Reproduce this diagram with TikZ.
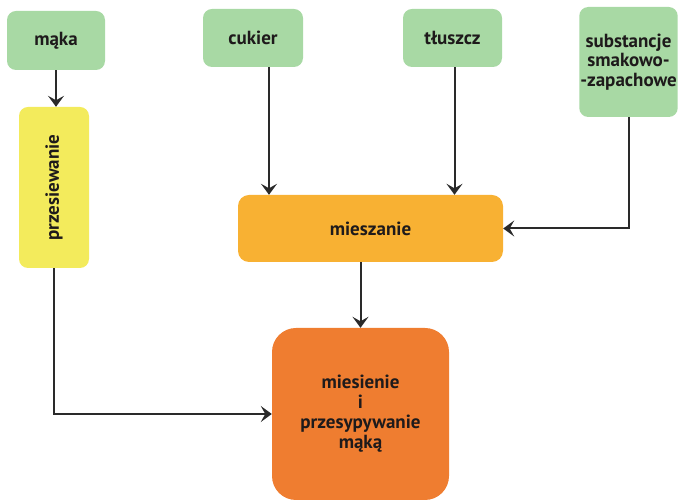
\documentclass[tikz,border=0pt]{standalone}
\usepackage{fontspec}
\setmainfont{PT Sans}
\usetikzlibrary{arrows.meta}
\definecolor{ingr}{HTML}{A8D9A4}
\definecolor{sieve}{HTML}{F3EB5C}
\definecolor{mix}{HTML}{F8B133}
\definecolor{knead}{HTML}{EF7D30}
\definecolor{ink}{HTML}{1E1A1B}
\definecolor{wire}{HTML}{2A2A2A}
\tikzset{
  x=1pt, y=1pt,
  box/.style={rounded corners=9pt, inner sep=1pt, align=center,
    font=\bfseries\fontsize{19}{19.5}\selectfont, text=ink},
  ingredient/.style={box, fill=ingr},
  flow/.style={draw=wire, line width=2pt,
    -{Stealth[length=11pt,width=16pt,inset=4.5pt]}},
}
\begin{document}
\begin{tikzpicture}
\useasboundingbox (0,0) rectangle (681,503);
% ingredients
\node[ingredient, minimum width=98pt, minimum height=59pt] (maka) at (56,462.5) {mąka};
\node[ingredient, minimum width=100pt, minimum height=58pt] (cukier) at (253,465) {cukier};
\node[ingredient, minimum width=99pt, minimum height=58pt] (tluszcz) at (452.5,465) {tłuszcz};
\node[ingredient, minimum width=97pt, minimum height=110pt] (subst) at (628.5,441) {substancje\\smakowo-\\-zapachowe};
% process steps
\node[box, fill=sieve, minimum width=70pt, minimum height=161pt] (sieving) at (54,315.5) {\rotatebox{90}{przesiewanie}};
\node[box, fill=mix, rounded corners=11pt, minimum width=265pt, minimum height=67pt] (mixing) at (370.5,274.5) {mieszanie};
\node[box, fill=knead, rounded corners=24pt, minimum width=177pt, minimum height=172pt, font=\bfseries\fontsize{19}{20}\selectfont] (kneading) at (360.5,89) {miesienie\\i\\przesypywanie\\mąką};
% connectors
\draw[flow] (maka.south) -- (maka.south |- sieving.north);
\draw[flow] ([xshift=16pt]cukier.south) -- ([xshift=16pt]cukier.south |- mixing.north);
\draw[flow] ([xshift=2pt]tluszcz.south) -- ([xshift=2pt]tluszcz.south |- mixing.north);
\draw[flow] (subst.south) |- (mixing.east);
\draw[flow] (kneading.north |- mixing.south) -- (kneading.north);
\draw[flow] (sieving.south) |- (kneading.west);
\end{tikzpicture}
\end{document}
